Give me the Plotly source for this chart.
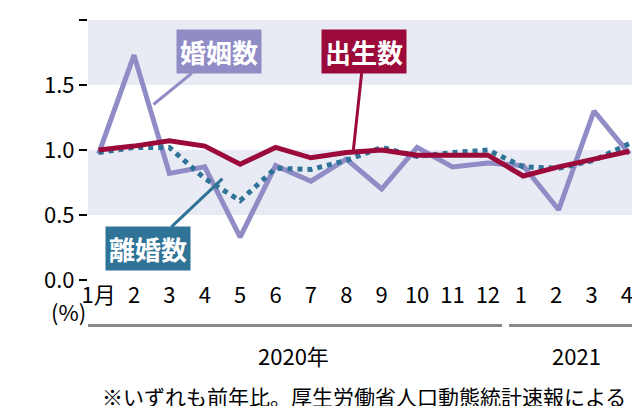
import plotly.graph_objects as go

months = ["1月","2","3","4","5","6","7","8","9","10","11","12","1 ","2 ","3 ","4 "]
marriage = [0.97,1.73,0.82,0.87,0.33,0.88,0.76,0.93,0.70,1.02,0.87,0.90,0.88,0.54,1.30,0.97]
births = [1.00,1.03,1.07,1.03,0.89,1.02,0.94,0.98,1.00,0.96,0.96,0.96,0.80,0.87,0.93,0.99]
divorce = [0.98,1.02,1.02,0.78,0.61,0.86,0.85,0.92,1.02,0.95,0.98,1.00,0.87,0.86,0.92,1.05]

PUR, RED, TEAL = "#8f8cc6", "#9b0a3a", "#2f7397"
F = "Noto Sans CJK JP"
x = list(range(len(months)))

fig = go.Figure()
fig.add_trace(go.Scatter(x=x, y=marriage, mode="lines", line=dict(color=PUR, width=5), cliponaxis=False))
fig.add_trace(go.Scatter(x=x, y=divorce, mode="lines", line=dict(color=TEAL, width=5, dash="dot"), cliponaxis=False))
fig.add_trace(go.Scatter(x=x, y=births, mode="lines", line=dict(color=RED, width=5), cliponaxis=False))

for y0 in (0.5, 1.5):
    fig.add_shape(type="rect", xref="paper", yref="y", x0=0, x1=1, y0=y0, y1=y0+0.5,
                  fillcolor="#e8ebf3", line_width=0, layer="below")

def lab(text, col, xi, yi, lx, ly):
    fig.add_annotation(x=xi, y=yi, xref="x", yref="y", ax=lx, ay=ly, axref="x", ayref="y",
                       text=f"<b>{text}</b>", showarrow=True, arrowhead=0, arrowwidth=3, arrowcolor=col,
                       font=dict(family=F, size=26, color="white"), bgcolor=col, borderpad=3,
                       standoff=0)

lab("婚姻数", PUR, 1.55, 1.35, 3.4, 1.76)
lab("出生数", RED, 7.2, 1.0, 7.5, 1.76)
lab("離婚数", TEAL, 3.5, 0.78, 1.4, 0.24)

# year brackets
fig.add_shape(type="line", xref="x", yref="paper", x0=-0.6, x1=11.4, y0=-0.175, y1=-0.175, line=dict(color="#888", width=3))
fig.add_shape(type="line", xref="x", yref="paper", x0=11.6, x1=15.5, y0=-0.175, y1=-0.175, line=dict(color="#888", width=3))
fig.add_annotation(x=5.5, y=-0.22, xref="x", yref="paper", text="2020年", showarrow=False, yanchor="top",
                   font=dict(family=F, size=22, color="black"))
fig.add_annotation(x=13.5, y=-0.22, xref="x", yref="paper", text="2021", showarrow=False, yanchor="top",
                   font=dict(family=F, size=22, color="black"))
fig.add_annotation(x=-0.3, y=-0.05, xref="x", yref="paper", text="(%)", showarrow=False, yanchor="top",
                   xanchor="right", font=dict(family=F, size=22, color="black"))
fig.add_annotation(x=0.5, y=0, xref="paper", yref="paper", yshift=-116, text="※いずれも前年比。厚生労働省人口動態統計速報による",
                   showarrow=False, yanchor="middle", font=dict(family=F, size=21, color="black"))

fig.update_layout(width=640, height=406, margin=dict(l=80, r=8, t=12, b=134),
                  plot_bgcolor="white", paper_bgcolor="white", showlegend=False,
                  font=dict(family=F, size=22, color="black"))
fig.update_xaxes(tickvals=x, ticktext=months, range=[-0.3, 15.3], showgrid=False, zeroline=False,
                 ticks="", tickfont=dict(size=22))
fig.update_yaxes(range=[0, 2.0], tickvals=[0, 0.5, 1, 1.5, 2], ticktext=["0.0","0.5","1.0","1.5","2.0"],
                 showgrid=False, zeroline=False, ticks="outside", ticklen=8, tickwidth=2,
                 tickcolor="black", tickfont=dict(size=22))
fig.write_html("out.html")
